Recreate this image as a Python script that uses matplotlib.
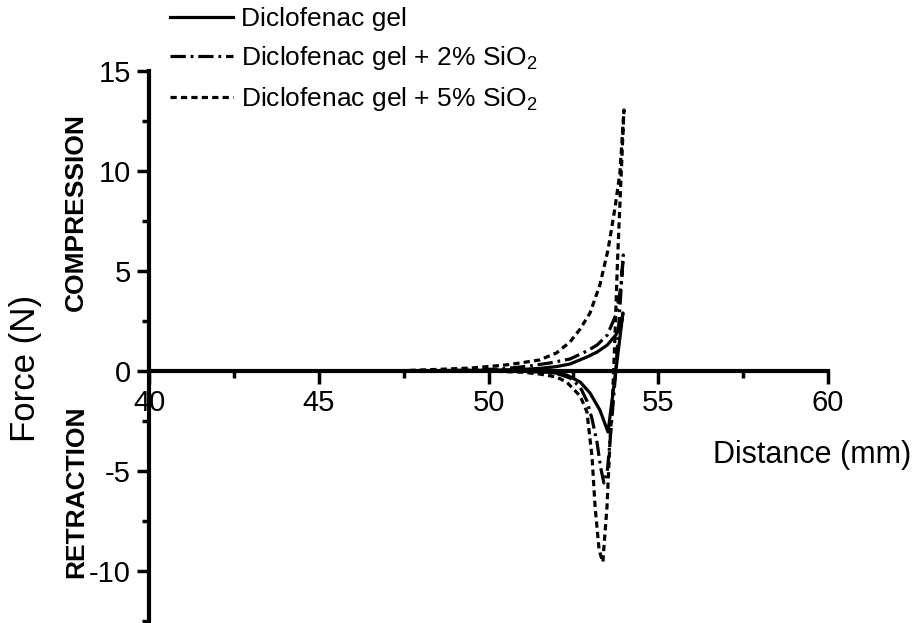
import numpy as np
import matplotlib
matplotlib.use('Agg')
from matplotlib import pyplot as plt
from matplotlib.ticker import MultipleLocator

plt.rcParams['font.family'] = ['Liberation Sans', 'DejaVu Sans']
plt.rcParams['mathtext.fontset'] = 'custom'
plt.rcParams['mathtext.rm'] = 'Liberation Sans'
plt.rcParams['lines.scale_dashes'] = False
plt.rcParams['axes.unicode_minus'] = False

# Diclofenac gel (compression then retraction)
gel_x = [40, 45, 48, 50, 51, 51.5, 52, 52.4, 52.9, 53.2, 53.5, 53.75, 53.9, 53.96,
         53.75, 53.52, 53.28, 52.99, 52.7, 52.3, 51.9, 51.4, 50.8, 50]
gel_y = [0, 0, 0.01, 0.04, 0.08, 0.13, 0.22, 0.35, 0.7, 0.95, 1.3, 1.8, 2.3, 2.9,
         0, -3.05, -1.95, -1.1, -0.55, -0.2, -0.08, -0.03, -0.01, 0]

# Diclofenac gel + 2% SiO2
si2_x = [40, 45, 48, 49.5, 50.5, 51.2, 51.8, 52.4, 52.9, 53.2, 53.5, 53.75, 53.9, 53.97,
         53.75, 53.58, 53.5, 53.4, 53.3, 53.2, 53.05, 52.9, 52.7, 52.4, 52.0, 51.5, 50.8, 50]
si2_y = [0, 0, 0.01, 0.04, 0.12, 0.25, 0.4, 0.6, 1.0, 1.3, 1.8, 2.8, 4.2, 5.8,
         0, -3.5, -5.0, -5.6, -4.8, -3.6, -2.4, -1.5, -0.8, -0.35, -0.12, -0.04, -0.01, 0]

# Diclofenac gel + 5% SiO2
si5_x = [40, 45, 47.5, 48.5, 49.5, 50.5, 51, 51.5, 52, 52.4, 52.7, 52.99, 53.28, 53.52,
         53.73, 53.87, 53.99,
         53.9, 53.8, 53.72, 53.65, 53.58, 53.49, 53.4, 53.37, 53.3, 53.25, 53.14, 53.05,
         52.9, 52.7, 52.3, 52.0, 51.5, 51.0, 50.3, 49.5]
si5_y = [0, 0, 0.02, 0.08, 0.15, 0.3, 0.42, 0.55, 0.9, 1.45, 2.1, 2.9, 4.3, 6.05,
         8.2, 9.9, 13.05,
         9.5, 5.5, 1.5, -1.5, -3.45, -6.8, -8.8, -9.55, -9.2, -8.8, -6.8, -4.3,
         -2.05, -1.25, -0.55, -0.3, -0.15, -0.06, -0.02, 0]

labels = ['Diclofenac gel',
          r'Diclofenac gel + 2% SiO$_\mathrm{2}$',
          r'Diclofenac gel + 5% SiO$_\mathrm{2}$']

fig = plt.figure(figsize=(9.23, 6.23), dpi=100)
ax = fig.add_axes([149 / 923, 0, 679 / 923, 552 / 623])

lw = 2.3
ax.plot(gel_x, gel_y, color='black', lw=lw, linestyle='-', label=labels[0])
ax.plot(si2_x, si2_y, color='black', lw=lw, linestyle=(0, (11, 3.5, 2, 3.5)), label=labels[1])
ax.plot(si5_x, si5_y, color='black', lw=lw, linestyle=(0, (4.5, 3)), label=labels[2])

ax.set_xlim(40, 60)
ax.set_ylim(-12.6, 15)

ax.spines['top'].set_visible(False)
ax.spines['right'].set_visible(False)
ax.spines['bottom'].set_position(('data', 0))
ax.spines['bottom'].set_linewidth(3)
ax.spines['left'].set_linewidth(3)
ax.spines['bottom'].set_zorder(1)

ax.xaxis.set_major_locator(MultipleLocator(5))
ax.xaxis.set_minor_locator(MultipleLocator(2.5))
ax.yaxis.set_major_locator(MultipleLocator(5))
ax.yaxis.set_minor_locator(MultipleLocator(2.5))
ax.tick_params(which='major', direction='out', length=9, width=2.5, labelsize=21, pad=4)
ax.tick_params(which='minor', direction='out', length=5, width=2.5)

fig.text(812 / 923, 1 - 455 / 623, 'Distance (mm)', ha='center', va='center', fontsize=22)
fig.text(26 / 923, 1 - 368 / 623, 'Force (N)', ha='center', va='center', fontsize=25, rotation=90)
fig.text(76 / 923, 1 - 212 / 623, 'COMPRESSION', ha='center', va='center', fontsize=19,
         fontweight='bold', rotation=90)
fig.text(76 / 923, 1 - 492 / 623, 'RETRACTION', ha='center', va='center', fontsize=19,
         fontweight='bold', rotation=90)

fig.legend(loc='upper left', bbox_to_anchor=(170 / 923, 1 - 7 / 623), frameon=False,
           fontsize=19, handlelength=2.4, handletextpad=0.28, labelspacing=0.5,
           borderpad=0, borderaxespad=0)

fig.savefig('out.png', dpi=100)
